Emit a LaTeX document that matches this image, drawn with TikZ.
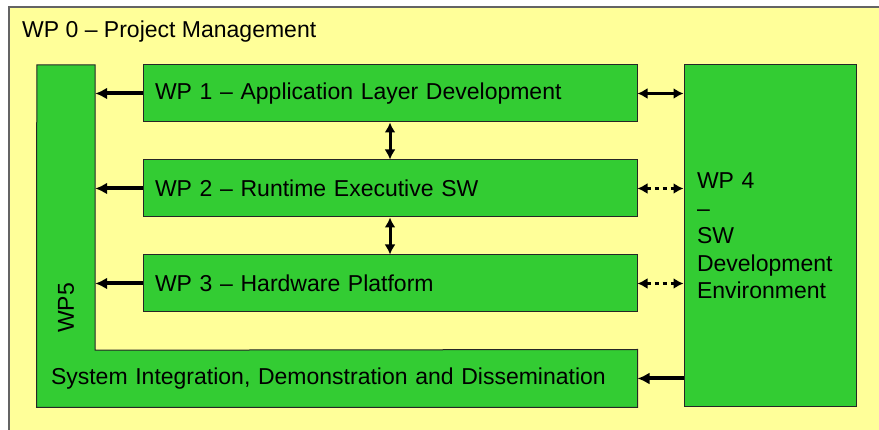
\documentclass[tikz,border=0pt]{standalone}
\usepackage{fontspec}
\setmainfont{Liberation Sans}
\definecolor{paleyellow}{RGB}{255,255,153}
\definecolor{wpgreen}{RGB}{51,204,51}
\definecolor{framegray}{RGB}{100,100,100}
\usetikzlibrary{arrows.meta,positioning,calc,backgrounds}

\begin{document}
\begin{tikzpicture}[x=1pt,y=-1pt,
      wpbox/.style={draw=black!85, fill=wpgreen, line width=1pt,
                    align=left, font=\fontsize{23}{27.5}\selectfont,
                    inner ysep=0pt, minimum height=57pt},
      lane/.style={wpbox, text width=470pt, inner xsep=12pt},
      hole/.style={inner sep=0pt, minimum width=58pt},
      arr/.style={-{Latex[length=12pt,width=12pt]}, line width=4pt},
      twoway/.style={{Latex[length=10pt,width=11pt]}-{Latex[length=10pt,width=11pt]},
                     line width=3pt},
      loose/.style={twoway, dash pattern=on 4pt off 4pt}
    ]
    \clip (0,0) rectangle (879,430);
    \node[anchor=west, font=\fontsize{23}{27.5}\selectfont, inner sep=0pt]
      (wp0) at (22,32) {WP 0 -- Project Management};

    % WP5: left column + bottom row (one L shape)
    \node[hole, minimum height=285pt] (wp5) at (66,207.5) {};
    \node[wpbox, draw=none, fill=none, text width=572pt, inner xsep=14pt]
      (sys) at (337,378.5) {System Integration, Demonstration and Dissemination};
    \node[rotate=90, font=\fontsize{23}{27.5}\selectfont, inner sep=0pt]
      (wp5name) at (66,308) {WP5};

    % WP1 - WP3
    \node[lane] (wp1) at (390,93.5) {WP 1 -- Application Layer Development};
    \node[lane] (wp2) at (390,188.5) {WP 2 -- Runtime Executive SW};
    \node[lane] (wp3) at (390,283.5) {WP 3 -- Hardware Platform};

    % WP4
    \node[wpbox, text width=146pt, inner xsep=13pt, minimum height=342pt]
      (wp4) at (770,236) {WP 4\\--\\SW\\Development\\Environment};

    \begin{scope}[on background layer]
      % WP 0 frame
      \draw[draw=framegray, fill=paleyellow, line width=1.5pt] (9,7) rectangle (890,440);
      \filldraw[draw=black!85, fill=wpgreen, line width=1pt]
        (wp5.north west) -- (wp5.north east) -- (wp5.south east)
        -- (sys.north east) -- (sys.south east) -- (sys.south west) -- cycle;
    \end{scope}

    \draw[arr] (wp1.west) -- (wp1.west -| wp5.east);
    \draw[arr] (wp2.west) -- (wp2.west -| wp5.east);
    \draw[arr] (wp3.west) -- (wp3.west -| wp5.east);
    \draw[twoway] (wp1.south) -- (wp2.north);
    \draw[twoway] (wp2.south) -- (wp3.north);
    \draw[twoway] (wp1.east) -- (wp1.east -| wp4.west);
    \draw[loose] (wp2.east) -- (wp2.east -| wp4.west);
    \draw[loose] (wp3.east) -- (wp3.east -| wp4.west);
    \draw[arr] (wp4.west |- sys.east) -- (sys.east);
  \end{tikzpicture}
\end{document}
